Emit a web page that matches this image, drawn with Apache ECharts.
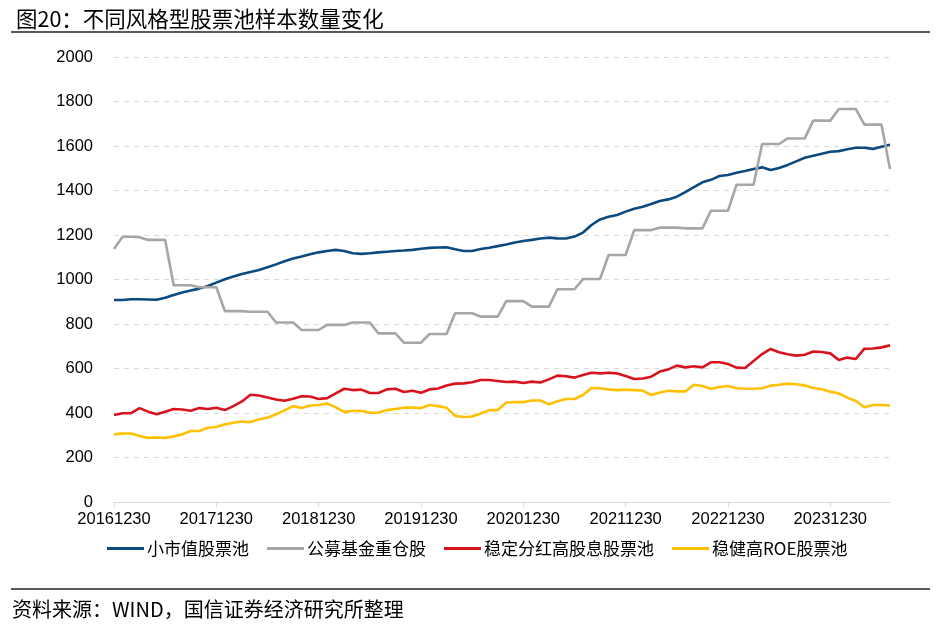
<!DOCTYPE html>
<html>
<head>
<meta charset="utf-8">
<script src="https://cdn.jsdelivr.net/npm/echarts@6/dist/echarts.min.js"></script>
<style>
html,body{margin:0;padding:0;background:#fff;}
#chart{width:940px;height:624px;}
</style>
</head>
<body>
<div id="chart"></div>
<script>
const categories = [
"20161230",
"20170131","20170228","20170331","20170430","20170531","20170630","20170731","20170831","20170930","20171031","20171130","20171230",
"20180131","20180228","20180331","20180430","20180531","20180630","20180731","20180831","20180930","20181031","20181130","20181230",
"20190131","20190228","20190331","20190430","20190531","20190630","20190731","20190831","20190930","20191031","20191130","20191230",
"20200131","20200229","20200331","20200430","20200531","20200630","20200731","20200831","20200930","20201031","20201130","20201230",
"20210131","20210228","20210331","20210430","20210531","20210630","20210731","20210831","20210930","20211031","20211130","20211230",
"20220131","20220228","20220331","20220430","20220531","20220630","20220731","20220831","20220930","20221031","20221130","20221230",
"20230131","20230228","20230331","20230430","20230531","20230630","20230731","20230831","20230930","20231031","20231130","20231230",
"20240131","20240229","20240331","20240430","20240531","20240630","20240731"
];

const smallCap = [908,908,911,911,910,909,918,930,942,951,959,971,986,1001,1013,1025,1034,1043,1055,1068,1082,1094,1103,1113,1122,1128,1133,1128,1118,1115,1118,1122,1125,1128,1130,1133,1138,1142,1144,1145,1136,1128,1128,1137,1143,1150,1157,1166,1173,1178,1184,1188,1185,1184,1193,1211,1245,1270,1282,1290,1305,1318,1327,1339,1353,1360,1372,1393,1415,1437,1448,1465,1470,1480,1488,1497,1504,1492,1501,1515,1531,1547,1556,1565,1574,1577,1585,1592,1592,1587,1597,1606];

const fundHeavy = [1137,1192,1192,1190,1178,1178,1178,974,974,974,965,965,965,858,858,858,855,855,855,807,807,807,773,773,773,796,796,796,807,807,807,758,758,758,716,716,716,755,755,755,848,848,848,833,833,833,903,903,903,878,878,878,956,956,956,1002,1002,1002,1110,1110,1110,1222,1222,1222,1233,1233,1233,1230,1230,1230,1309,1309,1309,1426,1426,1426,1609,1609,1609,1634,1634,1634,1714,1714,1714,1766,1766,1766,1696,1696,1696,1497];

const highDividend = [391,399,399,422,406,394,406,418,416,410,422,418,424,413,431,452,482,479,470,461,455,464,475,474,463,467,488,509,503,505,490,490,506,509,494,500,491,506,510,524,532,533,538,548,548,544,539,541,535,541,537,551,568,565,559,571,581,578,581,578,566,553,555,563,586,596,613,605,610,605,628,628,620,604,602,634,665,688,673,664,658,662,676,674,668,638,649,643,689,690,695,704];

const highROE = [304,308,308,297,288,290,288,295,304,319,319,334,337,349,356,362,359,372,379,394,412,431,422,434,436,443,425,405,409,410,401,401,413,418,424,425,422,436,431,424,387,382,384,398,413,413,447,449,449,456,456,439,453,463,463,481,512,511,506,503,505,503,501,481,492,500,497,497,527,521,509,517,521,511,509,509,511,523,527,532,529,524,512,507,496,488,469,454,426,436,436,434];

const seriesNames = ["小市值股票池","公募基金重仓股","稳定分红高股息股票池","稳健高ROE股票池"];
const seriesColors = ["#0B4A7F","#A6A6A6","#D7141E","#FFC000"];
const seriesData = [smallCap, fundHeavy, highDividend, highROE];

const latin = "'Liberation Sans', Arial, sans-serif";
const cjk = "'Noto Sans CJK SC', sans-serif";

const chart = echarts.init(document.getElementById('chart'), null, {renderer:'canvas'});
chart.setOption({
  animation: false,
  backgroundColor: '#ffffff',
  title: {
    text: '图20：不同风格型股票池样本数量变化',
    left: 11, top: 3,
    textStyle: {fontFamily: cjk, fontSize: 21.5, fontWeight: 'normal', color: '#000'}
  },
  graphic: [
    {type:'line', shape:{x1:11,y1:32,x2:930,y2:32}, style:{stroke:'#595959', lineWidth:2}},
    {type:'line', shape:{x1:11,y1:589,x2:930,y2:589}, style:{stroke:'#595959', lineWidth:2}},
    {type:'text', left: 12, top: 599, style:{text:'资料来源：WIND，国信证券经济研究所整理', font: "20px 'Noto Sans CJK SC', sans-serif", fill:'#000'}}
  ],
  grid: {left: 114, right: 50, top: 57, bottom: 122, containLabel: false},
  legend: {
    data: seriesNames,
    top: 535, left: 102,
    icon: 'rect', itemWidth: 37, itemHeight: 3, itemGap: 18,
    textStyle: {fontFamily: cjk, fontSize: 17, color: '#000', padding: [0,0,0,-2]}
  },
  xAxis: {
    type: 'category',
    data: categories,
    boundaryGap: false,
    axisLine: {lineStyle: {color: '#D9D9D9', width: 1}},
    axisTick: {interval: 11, length: 5, lineStyle: {color: '#D9D9D9'}},
    axisLabel: {interval: 11, fontFamily: latin, fontSize: 16.5, color: '#000', margin: 9}
  },
  yAxis: {
    type: 'value',
    min: 0, max: 2000, interval: 200,
    axisLine: {show: false},
    axisTick: {show: false},
    axisLabel: {fontFamily: latin, fontSize: 16.5, color: '#000', margin: 21, formatter: v => String(v)},
    splitLine: {lineStyle: {color: '#D9D9D9', type: [5,5], width: 1}}
  },
  series: seriesNames.map((n, k) => ({
    name: n,
    type: 'line',
    data: seriesData[k],
    symbol: 'none',
    lineStyle: {color: seriesColors[k], width: 2.6},
    itemStyle: {color: seriesColors[k]}
  }))
});
</script>
</body>
</html>
